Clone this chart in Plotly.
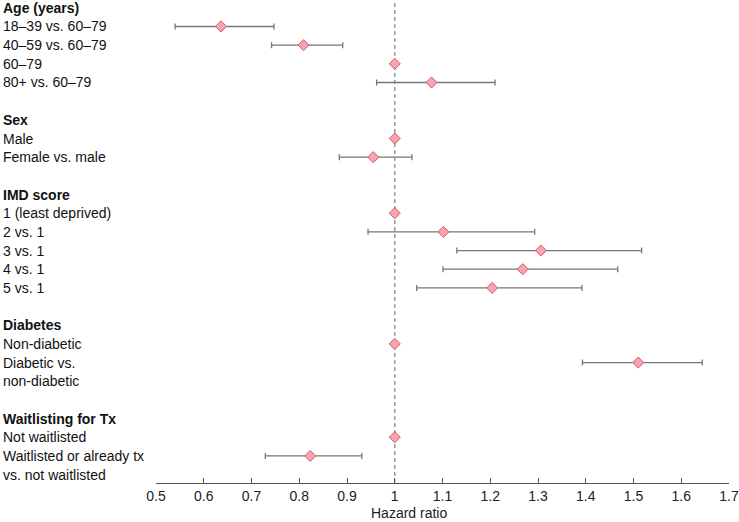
import plotly.graph_objects as go

# Row labels (one per text line, top to bottom); headers are bold
row_labels = [
    "<b>Age (years)</b>", "18–39 vs. 60–79", "40–59 vs. 60–79", "60–79", "80+ vs. 60–79",
    "",
    "<b>Sex</b>", "Male", "Female vs. male",
    "",
    "<b>IMD score</b>", "1 (least deprived)", "2 vs. 1", "3 vs. 1", "4 vs. 1", "5 vs. 1",
    "",
    "<b>Diabetes</b>", "Non-diabetic", "Diabetic vs.", "non-diabetic",
    "",
    "<b>Waitlisting for Tx</b>", "Not waitlisted", "Waitlisted or already tx", "vs. not waitlisted",
]

# Estimates: row index, hazard ratio, lower and upper CI
est_rows = [1, 2, 3, 4, 7, 8, 11, 12, 13, 14, 15, 18, 19, 23, 24]
hazard_ratio = [0.636, 0.809, 1.0, 1.077, 1.0, 0.955, 1.0, 1.102, 1.306, 1.268, 1.204, 1.0, 1.510, 1.0, 0.823]
ci_lower = [0.540, 0.742, 1.0, 0.962, 1.0, 0.884, 1.0, 0.944, 1.130, 1.101, 1.046, 1.0, 1.393, 1.0, 0.729]
ci_upper = [0.747, 0.891, 1.0, 1.210, 1.0, 1.036, 1.0, 1.293, 1.517, 1.467, 1.392, 1.0, 1.644, 1.0, 0.931]

x_ticks = [0.5, 0.6, 0.7, 0.8, 0.9, 1.0, 1.1, 1.2, 1.3, 1.4, 1.5, 1.6, 1.7]

FONT = "Liberation Sans, Arial, sans-serif"
L, R, T, B = 156, 8, 0, 39
W, H = 739, 522
plot_w = W - L - R

fig = go.Figure()
fig.add_trace(go.Scatter(
    x=hazard_ratio, y=est_rows, mode="markers",
    marker=dict(symbol="diamond", size=8.5, color="#f7a3b0",
                line=dict(color="#d45a6c", width=1)),
    error_x=dict(type="data", symmetric=False,
                 array=[u - h for u, h in zip(ci_upper, hazard_ratio)],
                 arrayminus=[h - l for h, l in zip(hazard_ratio, ci_lower)],
                 color="#777777", thickness=1.3, width=3),
    showlegend=False, hoverinfo="skip",
))

fig.add_shape(type="line", xref="x", yref="paper", x0=1, x1=1, y0=0, y1=1,
              line=dict(color="#9a9a9a", width=1.5, dash="4px,3px"), layer="below")

for i, lab in enumerate(row_labels):
    if not lab:
        continue
    fig.add_annotation(text=lab, xref="paper", yref="y", x=-L / plot_w, y=i,
                       xanchor="left", yanchor="middle", showarrow=False,
                       font=dict(family=FONT, size=14, color="#111111"))

fig.add_annotation(text="Hazard ratio", xref="paper", yref="paper",
                   x=(410 - L) / plot_w, y=-30 / (H - T - B),
                   xanchor="center", yanchor="middle", showarrow=False,
                   font=dict(family=FONT, size=14, color="#222222"))

fig.update_xaxes(range=[0.5, 1.7], tickvals=x_ticks,
                 ticktext=[("%g" % v) for v in x_ticks],
                 ticks="inside", ticklen=5, tickcolor="#555555",
                 ticklabeloverflow="allow",
                 showline=True, linecolor="#555555", linewidth=1.2,
                 showgrid=False, zeroline=False,
                 tickfont=dict(family=FONT, size=14, color="#222222"))
fig.update_yaxes(range=[25.45, -0.418], showticklabels=False, showgrid=False,
                 zeroline=False, showline=False, ticks="")

fig.update_layout(width=W, height=H, margin=dict(l=L, r=R, t=T, b=B),
                  plot_bgcolor="white", paper_bgcolor="white",
                  font=dict(family=FONT))

fig.write_html("out.html", config={"displayModeBar": False},
               post_script="document.body.style.margin='0';document.body.style.padding='0';document.body.style.overflow='hidden';")
